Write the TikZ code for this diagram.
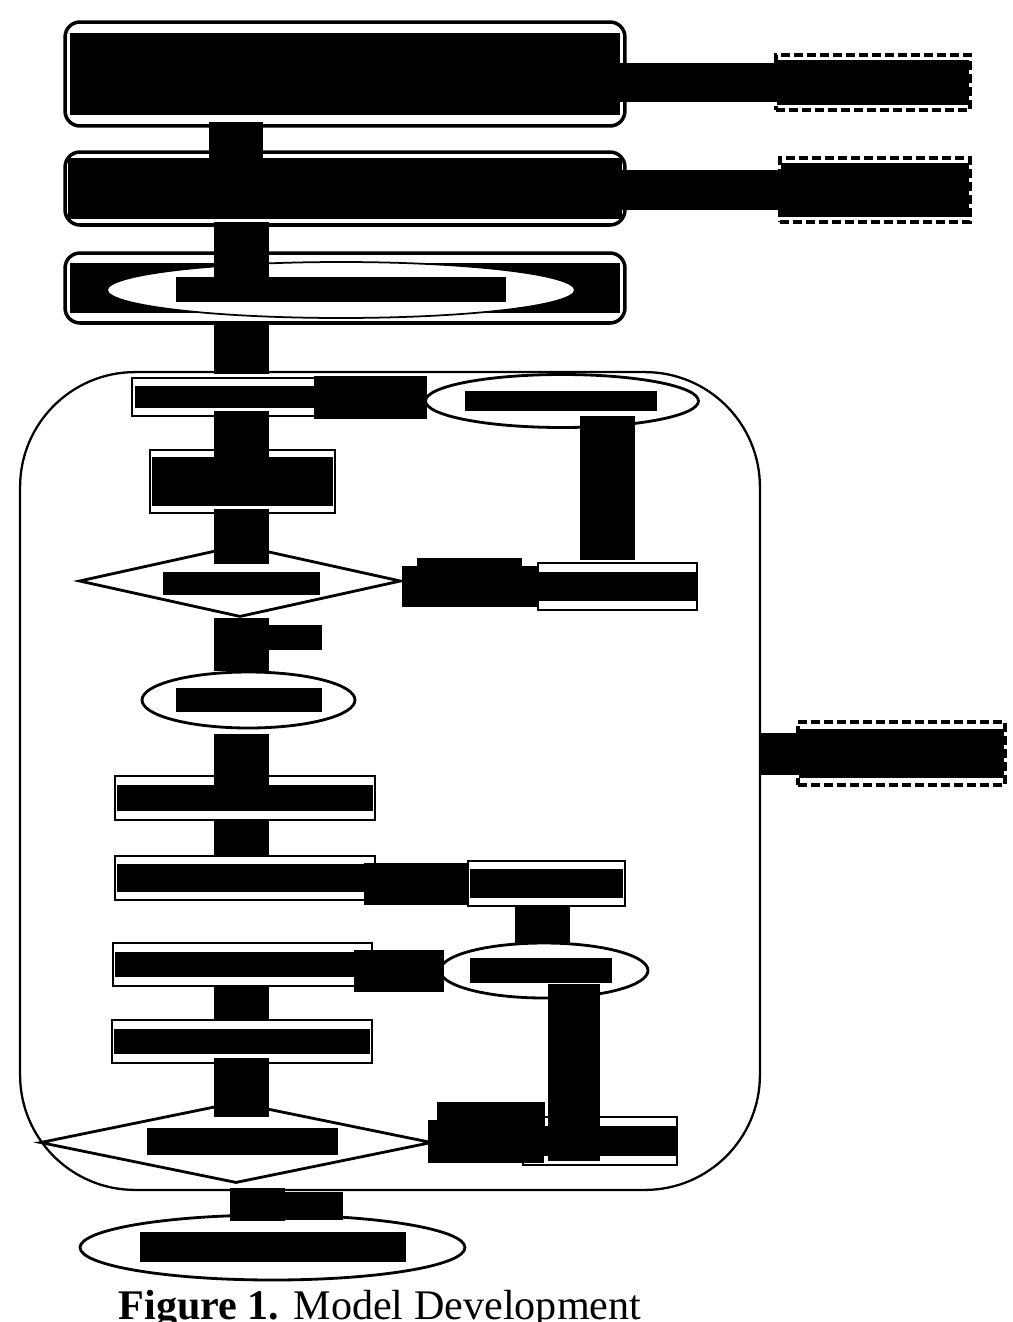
\documentclass[tikz,border=0pt]{standalone}
\usepackage{fontspec}
\setmainfont{Liberation Serif}
\usetikzlibrary{shapes.geometric}

% black-out bar inside a box, inset by (x,y) pixels
\newcommand{\inkbar}[3]{\fill ([shift={(#2,#3)}]#1.north west) rectangle ([shift={(-#2,-#3)}]#1.south east);}

\begin{document}
\begin{tikzpicture}[x=0.02cm, y=-0.02cm,
    stage/.style={draw, rounded corners=0.3cm, line width=2pt, fill=white, inner sep=0pt},
    procbox/.style={draw, line width=1.6pt, fill=white, inner sep=0pt},
    dashbox/.style={draw, line width=2.2pt, dash pattern=on 0.18cm off 0.08cm, fill=white, inner sep=0pt},
    oval/.style={draw, ellipse, line width=1.6pt, fill=white, inner sep=0pt},
    decision/.style={draw, diamond, line width=1.6pt, fill=white, inner sep=0pt},
    ink/.style={fill=black, inner sep=0pt},
    bar/.style={draw=black, line width=#1},
    bar/.default=1.1cm]
    \useasboundingbox (0,0) rectangle (1013,1322);

    % Columns for the vertical links
    \coordinate (c1) at (236,0);
    \coordinate (mid) at (241.5,0);
    \coordinate (low) at (257.5,0);
    \coordinate (r1) at (607,0);
    \coordinate (r2) at (542,0);
    \coordinate (r3) at (574,0);

    % Draw the big loop frame
    \node[draw, line width=1.3pt, rounded corners=2.3cm, minimum width=14.8cm, minimum height=16.36cm, inner sep=0pt] (grp) at (390,781) {};

    % Draw the top stages
    \node[stage, minimum width=11.2cm, minimum height=2.08cm] (A) at (345,74) {};
    \node[stage, minimum width=11.2cm, minimum height=1.46cm] (B) at (345,188.5) {};
    \node[stage, minimum width=11.2cm, minimum height=1.4cm] (C) at (345,288) {};
    \inkbar{A}{7}{13}
    \inkbar{B}{5}{8}
    \inkbar{C}{7}{12}
    \node[oval, line width=1pt, minimum width=9.36cm, minimum height=1.12cm] (E0) at (341,290) {};
    \node[ink, minimum width=6.6cm, minimum height=0.5cm] (E0t) at (341,289.5) {};

    % Draw the side notes
    \node[dashbox, minimum width=3.88cm, minimum height=1.1cm] (D1) at (873,82.5) {};
    \node[dashbox, minimum width=3.8cm, minimum height=1.28cm] (D2) at (875,190) {};
    \node[dashbox, minimum width=4.14cm, minimum height=1.26cm] (D3) at (901.5,753.5) {};
    \inkbar{D1}{3}{7}
    \inkbar{D2}{3}{7}
    \inkbar{D3}{3}{9}

    % Draw the steps inside the loop
    \node[procbox, minimum width=3.72cm, minimum height=0.76cm] (P1) at (225,397) {};
    \node[procbox, minimum width=3.7cm, minimum height=1.26cm] (P2) at (242.5,481.5) {};
    \node[procbox, minimum width=3.18cm, minimum height=0.94cm] (P3) at (617.5,586.5) {};
    \node[procbox, minimum width=5.2cm, minimum height=0.88cm] (P4) at (245,798) {};
    \node[procbox, minimum width=5.2cm, minimum height=0.88cm] (P5) at (245,878) {};
    \node[procbox, minimum width=3.14cm, minimum height=0.9cm] (P6) at (546.5,883.5) {};
    \node[procbox, minimum width=5.18cm, minimum height=0.86cm] (P7) at (242.5,964.5) {};
    \node[procbox, minimum width=5.2cm, minimum height=0.86cm] (P8) at (242,1041.5) {};
    \node[procbox, minimum width=3.08cm, minimum height=0.96cm] (P9) at (600,1141) {};
    \inkbar{P1}{4}{9}
    \inkbar{P2}{3}{8}
    \inkbar{P3}{2}{10}
    \inkbar{P4}{3}{10}
    \inkbar{P5}{3}{9}
    \inkbar{P6}{3}{9}
    \inkbar{P7}{3}{10}
    \inkbar{P8}{3}{10}
    \inkbar{P9}{2}{10}

    \node[oval, minimum width=5.46cm, minimum height=1.06cm] (E1) at (562,401) {};
    \node[oval, minimum width=4.26cm, minimum height=1.12cm] (E2) at (248.5,700) {};
    \node[oval, minimum width=4.16cm, minimum height=1.1cm] (E3) at (544,970.5) {};
    \node[oval, minimum width=7.7cm, minimum height=1.3cm] (E4) at (272.5,1247.5) {};
    \node[ink, minimum width=3.84cm, minimum height=0.4cm] (E1t) at (561,401) {};
    \node[ink, minimum width=2.92cm, minimum height=0.48cm] (E2t) at (249,700) {};
    \node[ink, minimum width=2.84cm, minimum height=0.5cm] (E3t) at (541,970.5) {};
    \node[ink, minimum width=5.32cm, minimum height=0.6cm] (E4t) at (273,1247) {};

    \node[decision, minimum width=6.44cm, minimum height=1.44cm] (Dm1) at (240,581) {};
    \node[decision, minimum width=7.84cm, minimum height=1.62cm] (Dm2) at (236,1142.5) {};
    \node[ink, minimum width=3.14cm, minimum height=0.46cm] (Dm1t) at (241.5,583.5) {};
    \node[ink, minimum width=3.82cm, minimum height=0.54cm] (Dm2t) at (242.5,1141.5) {};

    % Draw the links
    \draw[bar, shorten <=-0.12cm, shorten >=-0.26cm] (A.south -| c1) -- (B.north -| c1);
    \draw[bar, shorten <=-0.1cm, shorten >=-0.54cm] (B.south -| mid) -- (C.north -| mid);
    \draw[bar, shorten <=-0.06cm, shorten >=0.06cm] (C.south -| mid) -- (P1.north -| mid);
    \draw[bar, shorten <=-0.12cm, shorten >=-0.2cm] (P1.south -| mid) -- (P2.north -| mid);
    \draw[bar, shorten <=-0.1cm, shorten >=-0.4cm] (P2.south -| mid) -- (Dm1.north -| mid);
    \draw[bar] (Dm1.south -| mid) -- (E2.north -| mid);
    \draw[bar, shorten <=0.1cm, shorten >=-0.28cm] (E2.south -| mid) -- (P4.north -| mid);
    \draw[bar, shorten <=-0.04cm, shorten >=-0.02cm] (P4.south -| mid) -- (P5.north -| mid);
    \draw[bar, shorten <=-0.04cm] (P7.south -| mid) -- (P8.north -| mid);
    \draw[bar, shorten <=-0.12cm, shorten >=-0.32cm] (P8.south -| mid) -- (Dm2.north -| mid);
    \draw[bar, shorten <=0.08cm, shorten >=-0.14cm] (Dm2.south -| low) -- (E4.north -| low);
    \draw[bar, shorten <=-0.26cm, shorten >=0.04cm] (E1.south -| r1) -- (P3.north -| r1);
    \draw[bar, shorten <=-0.02cm, shorten >=-0.04cm] (P6.south -| r2) -- (E3.north -| r2);
    \draw[bar=1.04cm, shorten <=-0.3cm, shorten >=0.1cm] (E3.south -| r3) -- (P9.south -| r3);

    \draw[bar=0.8cm, shorten <=-0.16cm, shorten >=-0.08cm] (A.east |- D1.west) -- (D1.west);
    \draw[bar=0.8cm, shorten <=-0.16cm, shorten >=-0.1cm] (B.east |- D2.west) -- (D2.west);
    \draw[bar=0.86cm, shorten <=-0.1cm, shorten >=-0.06cm] (P1.east) -- (P1.east -| E1.west);
    \draw[bar=0.82cm, shorten >=-0.04cm] (Dm1.east |- P3.west) -- (P3.west);
    \draw[bar=0.84cm, shorten <=-0.24cm, shorten >=-0.04cm] (P5.east |- P6.west) -- (P6.west);
    \draw[bar=0.84cm, shorten <=-0.38cm, shorten >=-0.1cm] (P7.east |- E3.west) -- (E3.west);
    \draw[bar=0.86cm, shorten <=-0.1cm, shorten >=-0.44cm] (Dm2.east |- P9.west) -- (P9.west);
    \draw[bar=0.84cm, shorten >=-0.64cm] (grp.east |- D3.west) -- (D3.west);

    % Label the links
    \node[ink, minimum width=1.08cm, minimum height=0.5cm] (L1) at (295,637.5) {};
    \node[ink, minimum width=2.1cm, minimum height=0.84cm] (L2) at (469.5,579) {};
    \node[ink, minimum width=2.16cm, minimum height=0.72cm] (L3) at (491,1120) {};
    \node[ink, minimum width=1.16cm, minimum height=0.56cm] (L4) at (314,1206) {};

    % Caption
    \node[anchor=base, inner sep=0pt, font=\fontsize{24}{28}\selectfont] (cap) at (380,1319) {\textbf{Figure 1.} Model Development};
\end{tikzpicture}
\end{document}
